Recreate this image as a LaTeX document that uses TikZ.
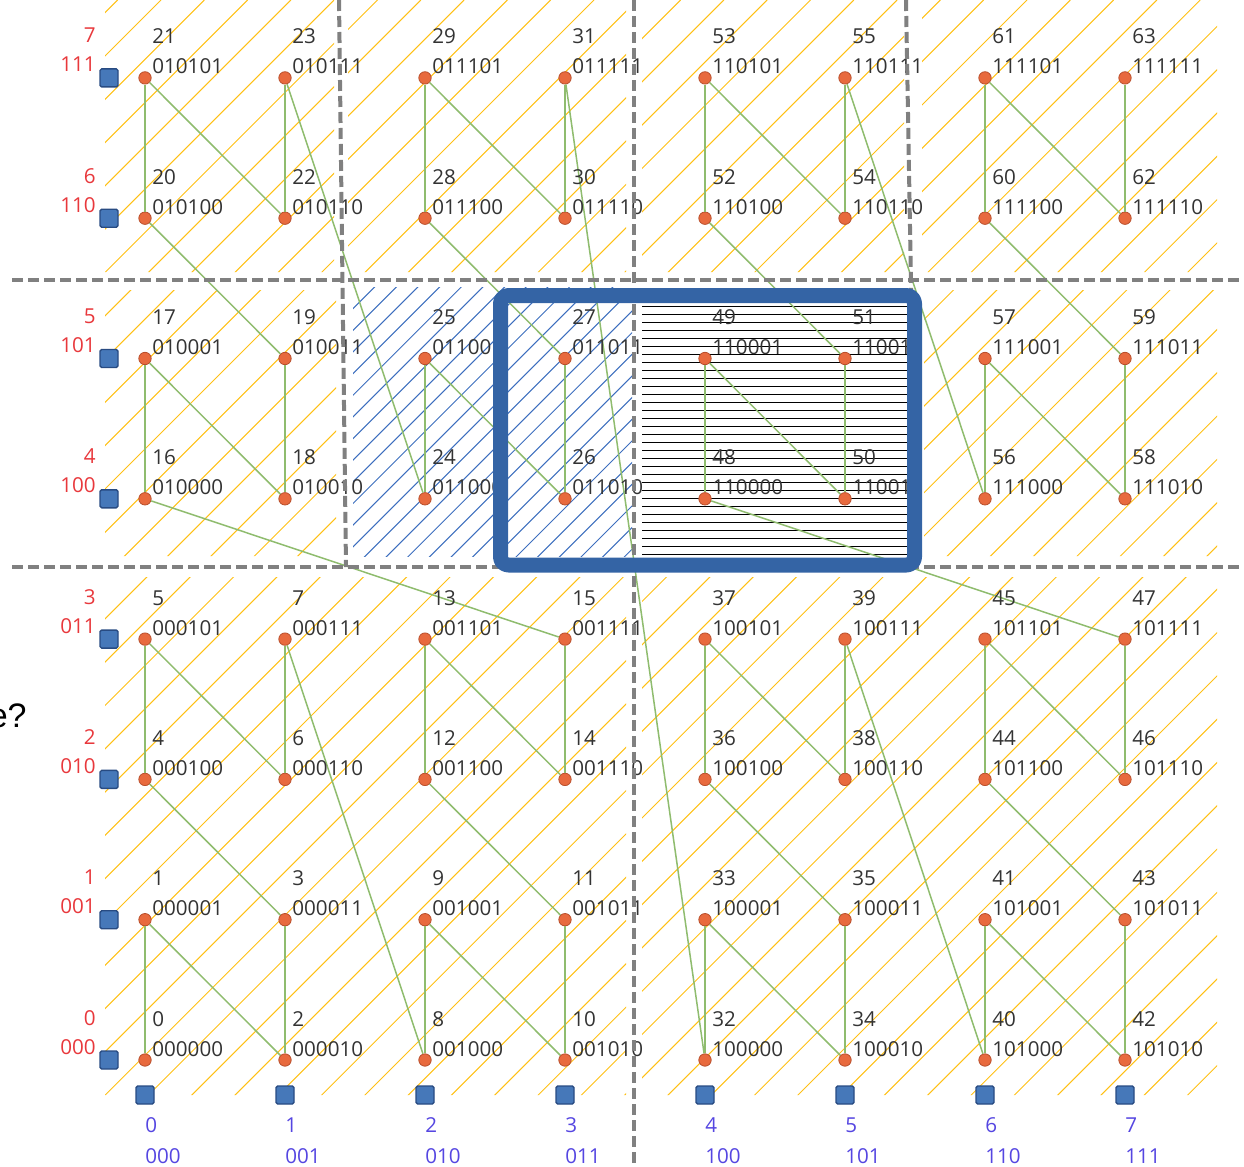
\documentclass[tikz,border=0pt]{standalone}
\usepackage{fontspec}
\setmainfont{Open Sans}
\newfontfamily\askfont{Liberation Sans}

\definecolor{hatchyellow}{RGB}{255,192,20}
\definecolor{hatchblue}{RGB}{60,110,190}
\definecolor{zgreen}{RGB}{143,188,110}
\definecolor{dotorange}{RGB}{232,106,62}
\definecolor{dotedge}{RGB}{185,80,45}
\definecolor{boxblue}{RGB}{52,100,165}
\definecolor{sqblue}{RGB}{70,120,185}
\definecolor{sqedge}{RGB}{40,75,130}
\definecolor{rowred}{RGB}{232,56,60}
\definecolor{colblue}{RGB}{85,70,225}
\definecolor{txtgray}{RGB}{51,51,51}

\tikzset{
  dot/.style={circle,fill=dotorange,draw=dotedge,line width=0.4pt,inner sep=0pt,minimum size=6.2pt},
  axbox/.style={rectangle,fill=sqblue,draw=sqedge,line width=0.7pt,rounded corners=0.8pt,inner sep=0pt,minimum size=9pt},
  zline/.style={zgreen,line width=0.75pt},
  quad/.style={black!50,line width=2pt,dash pattern=on 5.5pt off 2.5pt},
  lbl/.style={inner sep=0pt,font=\fontsize{10.3}{12}\selectfont},
  numlbl/.style={lbl,anchor=base west,text=txtgray},
  rowlbl/.style={lbl,anchor=base east,text=rowred},
  collbl/.style={lbl,anchor=base west,text=colblue},
}

\begin{document}
\begin{tikzpicture}[
    x=0.5pt,y=-0.5pt,
    line join=round,
]
\useasboundingbox (0,0) rectangle (1244,1167);

% yellow hatching
\begin{scope}
\clip (105,0) rectangle (334,272) (348,0) rectangle (626,272)
      (642,0) rectangle (904,272) (922,0) rectangle (1217,272)
      (105,290) rectangle (336,556) (924,290) rectangle (1217,556)
      (105,577) rectangle (626,1095) (642,577) rectangle (1217,1095);
\foreach \k in {0,...,56}
  \draw[hatchyellow,line width=0.5pt] ({31.1+43.3*\k},0) -- ++(-1200,1200);
\end{scope}

% blue hatching
\begin{scope}
\clip (353,287) rectangle (632,556);
\foreach \k in {0,...,60}
  \draw[hatchblue,line width=0.5pt] ({640+21.65*\k},0) -- ++(-1200,1200);
\end{scope}

% horizontal lines
\foreach \k in {0,...,33}
  \draw[black,line width=0.5pt] (642,{290+8*\k}) -- (907,{290+8*\k});

% points in z-order
\foreach \n in {0,...,63}{
  \pgfmathtruncatemacro\ba{mod(\n,2)}
  \pgfmathtruncatemacro\bb{mod(floor(\n/2),2)}
  \pgfmathtruncatemacro\bc{mod(floor(\n/4),2)}
  \pgfmathtruncatemacro\bd{mod(floor(\n/8),2)}
  \pgfmathtruncatemacro\bg{mod(floor(\n/16),2)}
  \pgfmathtruncatemacro\bh{floor(\n/32)}
  \pgfmathtruncatemacro\i{\bb+2*\bd+4*\bh}
  \pgfmathtruncatemacro\j{\ba+2*\bc+4*\bg}
  \node[dot] (p\n) at ({145+140*\i},{1060-140.3*\j}) {};
}

% z-curve
\foreach \n [remember=\n as \m (initially 0)] in {1,...,63}
  \draw[zline] (p\m) -- (p\n);

% value labels
\foreach \n in {0,...,63}{
  \pgfmathtruncatemacro\ba{mod(\n,2)}
  \pgfmathtruncatemacro\bb{mod(floor(\n/2),2)}
  \pgfmathtruncatemacro\bc{mod(floor(\n/4),2)}
  \pgfmathtruncatemacro\bd{mod(floor(\n/8),2)}
  \pgfmathtruncatemacro\bg{mod(floor(\n/16),2)}
  \pgfmathtruncatemacro\bh{floor(\n/32)}
  \node[numlbl] (v\n) at ([xshift=3.5pt,yshift=17pt]p\n.center) {\n};
  \node[numlbl] (w\n) at ([xshift=3.5pt,yshift=2pt]p\n.center) {\bh\bg\bd\bc\bb\ba};
}

% axes boxes
\foreach \k in {0,...,7}{
  \pgfmathtruncatemacro\ka{mod(\k,2)}
  \pgfmathtruncatemacro\kb{mod(floor(\k/2),2)}
  \pgfmathtruncatemacro\kc{floor(\k/4)}
  \node[axbox] (r\k) at (109,{1060-140.3*\k}) {};
  \node[rowlbl] (ry\k) at ([xshift=-6.5pt,yshift=17.5pt]r\k.center) {\k};
  \node[rowlbl] (rz\k) at ([xshift=-6.5pt,yshift=3pt]r\k.center) {\kc\kb\ka};
  \node[axbox] (c\k) at ({145+140*\k},1095) {};
  \node[collbl] (cy\k) at ([yshift=-18.5pt]c\k.center) {\k};
  \node[collbl] (cz\k) at ([yshift=-34pt]c\k.center) {\kc\kb\ka};
}

% quadrant borders
\draw[quad] (12,280) -- (1244,280);
\draw[quad] (12,567) -- (1244,567);
\draw[quad] (339,0) -- (346,567);
\draw[quad] (634,0) -- (634,1167);
\draw[quad] (906,0) -- (916,567);

% query box
\draw[boxblue,line width=7.5pt,rounded corners=4pt] (500.5,295.5) rectangle (914.5,565);

\node[anchor=base east,inner sep=0pt,font=\askfont\fontsize{17}{20}\selectfont] (ask) at (27,727) {e?};
\end{tikzpicture}
\end{document}
